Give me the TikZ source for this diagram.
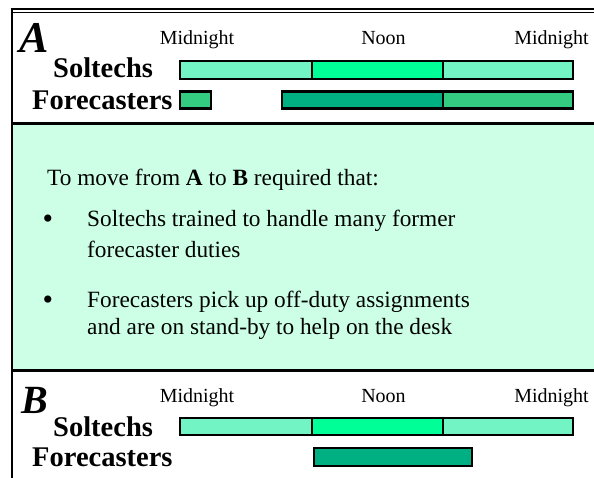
\documentclass[tikz,border=0pt]{standalone}
\usepackage{fontspec}
\setmainfont{Liberation Serif}
\definecolor{lightaqua}{RGB}{115,244,196}
\definecolor{brightgreen}{RGB}{0,255,150}
\definecolor{darkteal}{RGB}{0,176,130}
\definecolor{midgreen}{RGB}{51,204,128}
\definecolor{mint}{RGB}{204,255,230}
\begin{document}
\begin{tikzpicture}[x=1pt,y=-1pt,
  seg/.style={draw=black,line width=2.2pt,rectangle,inner sep=0pt,outer sep=0pt,anchor=north west},
  hour/.style={font=\fontsize{20}{24}\selectfont,anchor=base,inner sep=0pt},
  role/.style={font=\fontsize{28.5}{34}\selectfont\bfseries,anchor=base west,inner sep=0pt},
  panel/.style={font=\fontsize{44}{50}\selectfont\bfseries\itshape,anchor=base west,inner sep=0pt},
  body/.style={font=\fontsize{23.3}{28}\selectfont,anchor=base west,inner sep=0pt},
  dot/.style={font=\fontsize{30}{34}\selectfont,anchor=base,inner sep=0pt},
  frame/.style={line width=2.5pt,black}]
\useasboundingbox (0,0) rectangle (594,478);
% middle panel
\fill[mint] (12,123) rectangle (594,371);
\draw[frame] (12,123.5) -- (594,123.5);
\draw[frame] (12,370.5) -- (594,370.5);
% outer frame
\draw[line width=1.2pt] (10.5,9) -- (594,9);
\draw[line width=1.5pt] (12,12.5) -- (594,12.5);
\draw[frame] (12,8.5) -- (12,478);

% ---------- Panel A ----------
\node[panel] (A) at (19,53) {A};
\node[hour] (a-mid1) at (197,45) {Midnight};
\node[hour] (a-noon) at (383.5,45) {Noon};
\node[hour] (a-mid2) at (551.5,45) {Midnight};
\node[role] (a-sol) at (53,78) {Soltechs};
\node[role] (a-for) at (32,110) {Forecasters};
\node[seg,fill=lightaqua,minimum width=132pt,minimum height=18pt] (as1) at (180,61) {};
\node[seg,fill=brightgreen,minimum width=131pt,minimum height=18pt] (as2) at (312,61) {};
\node[seg,fill=lightaqua,minimum width=130pt,minimum height=18pt] (as3) at (443,61) {};
\node[seg,fill=midgreen,minimum width=31pt,minimum height=17pt] (af1) at (180,91.5) {};
\node[seg,fill=darkteal,minimum width=161pt,minimum height=17pt] (af2) at (282,91.5) {};
\node[seg,fill=midgreen,minimum width=130pt,minimum height=17pt] (af3) at (443,91.5) {};

% ---------- Middle text ----------
\node[body] (t0) at (47,186) {To move from \textbf{A} to \textbf{B} required that:};
\node[dot] (b1) at (48,229) {•};
\node[body] (t1a) at (87,227) {Soltechs trained to handle many former};
\node[body] (t1b) at (87,258) {forecaster duties};
\node[dot] (b2) at (48,309) {•};
\node[body] (t2a) at (87,307) {Forecasters pick up off-duty assignments};
\node[body] (t2b) at (87,334) {and are on stand-by to help on the desk};

% ---------- Panel B ----------
\node[panel,font=\fontsize{40}{46}\selectfont\bfseries\itshape] (B) at (21,413) {B};
\node[hour] (b-mid1) at (197,402) {Midnight};
\node[hour] (b-noon) at (383.5,402) {Noon};
\node[hour] (b-mid2) at (551.5,402) {Midnight};
\node[role] (b-sol) at (53,436.5) {Soltechs};
\node[role] (b-for) at (32,466) {Forecasters};
\node[seg,fill=lightaqua,minimum width=132pt,minimum height=17pt] (bs1) at (180,418) {};
\node[seg,fill=brightgreen,minimum width=131pt,minimum height=17pt] (bs2) at (312,418) {};
\node[seg,fill=lightaqua,minimum width=130pt,minimum height=17pt] (bs3) at (443,418) {};
\node[seg,fill=darkteal,minimum width=158pt,minimum height=18pt] (bf1) at (314,448) {};
\end{tikzpicture}
\end{document}
